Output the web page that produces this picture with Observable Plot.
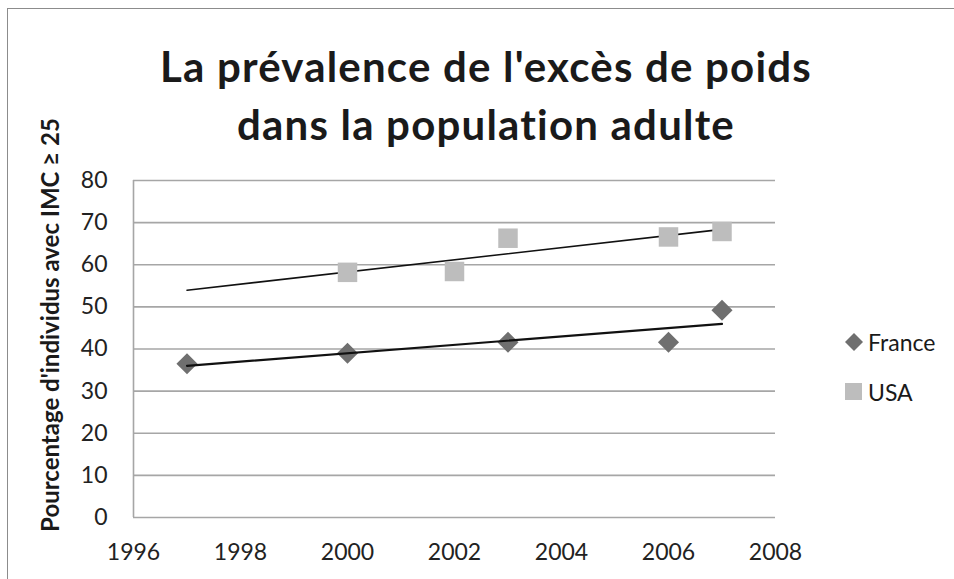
<!DOCTYPE html>
<html><head><meta charset="utf-8">
<script src="https://cdn.jsdelivr.net/npm/d3@7"></script>
<script src="https://cdn.jsdelivr.net/npm/@observablehq/plot@0.6"></script>
<style>
body{margin:0;background:#fff;font-family:Lato,"Open Sans",sans-serif;}
#wrap{position:relative;width:954px;height:579px;overflow:hidden;background:#fff;}
#frame{position:absolute;left:7px;top:8px;width:1000px;height:1000px;border:1.5px solid #8c8c8c;box-sizing:border-box;}
#title{position:absolute;left:0;top:37px;width:972px;text-align:center;font-weight:bold;font-size:42px;line-height:58px;letter-spacing:1.2px;color:#1a1a1a;}
#chart{position:absolute;left:0;top:0;}
#chart g[aria-label$="tick label"]{font-size:23px;}
.leg{position:absolute;left:845px;font-size:23px;color:#1a1a1a;display:flex;align-items:center;height:24px;line-height:24px;}
.leg svg{margin-right:5px;}
</style></head>
<body>
<div id="wrap">
  <div id="frame"></div>
  <div id="chart"></div>
  <div id="title">La prévalence de l'excès de poids<br>dans la population adulte</div>
  <div id="legend"></div>
</div>
<script>
const title = "La prévalence de l'excès de poids dans la population adulte";
const yLabel = "Pourcentage d'individus avec IMC ≥ 25";
const xTicks = [1996, 1998, 2000, 2002, 2004, 2006, 2008];
const yTicks = [0, 10, 20, 30, 40, 50, 60, 70, 80];
const franceYears = [1997, 2000, 2003, 2006, 2007];
const franceValues = [36.5, 39.0, 41.6, 41.6, 49.2];
const usaYears = [2000, 2002, 2003, 2006, 2007];
const usaValues = [58.2, 58.4, 66.3, 66.6, 67.9];
const seriesNames = ["France", "USA"];
const trendRange = [1997, 2007];

const france = franceYears.map((x, i) => ({year: x, value: franceValues[i], series: "France"}));
const usa = usaYears.map((x, i) => ({year: x, value: usaValues[i], series: "USA"}));

// linear trend lines (least squares), as in the original spreadsheet chart
function trend(data) {
  const mx = d3.mean(data, d => d.year), my = d3.mean(data, d => d.value);
  const sxy = d3.sum(data, d => (d.year - mx) * (d.value - my));
  const sxx = d3.sum(data, d => (d.year - mx) ** 2);
  const b = sxy / sxx;
  return trendRange.map(x => ({year: x, value: my + b * (x - mx)}));
}

const grid = "#a6a6a6";
const plot = Plot.plot({
  width: 954, height: 579,
  marginLeft: 133, marginRight: 179, marginTop: 180, marginBottom: 62,
  style: {fontFamily: "Lato, 'Open Sans', sans-serif", color: "#222", background: "transparent"},
  x: {domain: [1996, 2008]},
  y: {domain: [0, 80]},
  marks: [
    Plot.ruleY(yTicks, {y: d => d, stroke: grid, strokeWidth: 1.6}),
    Plot.ruleX([1996], {x: d => d, stroke: grid, strokeWidth: 1.6}),
    Plot.axisX({ticks: xTicks, tickFormat: "d", tickSize: 0, tickPadding: 26, label: null, fontSize: 23}),
    Plot.axisY({ticks: yTicks, tickSize: 0, tickPadding: 26, label: null, fontSize: 23}),
    Plot.text([yLabel], {frameAnchor: "left", rotate: -90, dx: -82, dy: -24, fontWeight: "bold", fontSize: 24, fill: "#1a1a1a", textAnchor: "middle"}),
    Plot.line(trend(usa), {x: "year", y: "value", stroke: "#111", strokeWidth: 1.6}),
    Plot.dot(usa, {x: "year", y: "value", symbol: "square", r: 11, fill: "#bdbdbd", stroke: "none"}),
    Plot.dot(france, {x: "year", y: "value", symbol: "diamond2", r: 9.5, fill: "#6f6f6f", stroke: "none"}),
    Plot.line(trend(france), {x: "year", y: "value", stroke: "#111", strokeWidth: 2.2})
  ]
});
document.getElementById("chart").appendChild(plot);

const legend = document.getElementById("legend");
legend.innerHTML = `
<div class="leg" style="top:330px"><svg width="18" height="18"><path d="M9,0 L18,9 L9,18 L0,9Z" fill="#6f6f6f"/></svg>${seriesNames[0]}</div>
<div class="leg" style="top:380px"><svg width="18" height="18"><rect x="0" y="0" width="17" height="17" fill="#bdbdbd"/></svg>${seriesNames[1]}</div>`;
</script>
</body></html>
